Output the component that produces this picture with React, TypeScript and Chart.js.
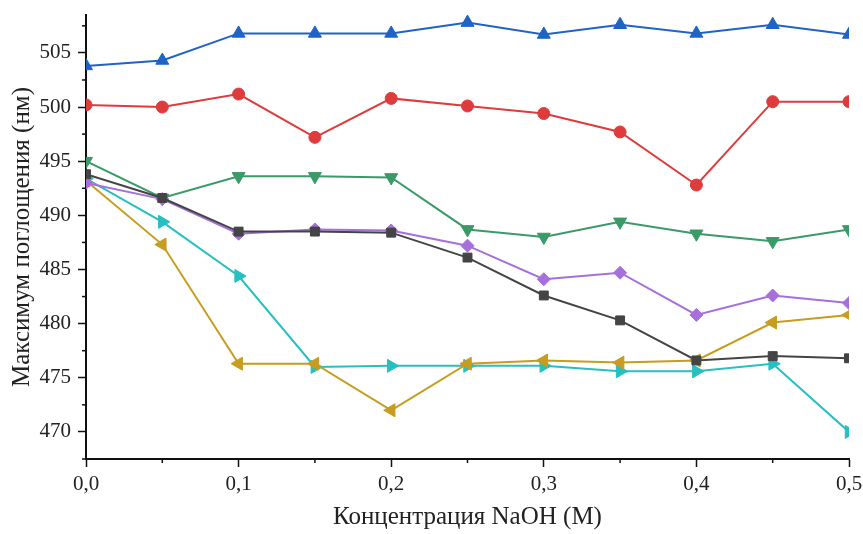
import React, { useEffect, useRef } from "react";
import { Chart, registerables } from "chart.js";

Chart.register(...registerables);

const concentrations = [0, 0.05, 0.1, 0.15, 0.2, 0.25, 0.3, 0.35, 0.4, 0.45, 0.5];

const seriesBlue = [503.8, 504.3, 506.8, 506.8, 506.8, 507.8, 506.7, 507.6, 506.8, 507.6, 506.7];
const seriesRed = [500.2, 500.0, 501.2, 497.2, 500.8, 500.1, 499.4, 497.7, 492.8, 500.5, 500.5];
const seriesGreen = [495.0, 491.6, 493.6, 493.6, 493.5, 488.7, 488.0, 489.4, 488.3, 487.6, 488.7];
const seriesBlack = [493.8, 491.6, 488.5, 488.5, 488.4, 486.1, 482.6, 480.3, 476.6, 477.0, 476.8];
const seriesPurple = [493.0, 491.5, 488.3, 488.7, 488.6, 487.2, 484.1, 484.7, 480.8, 482.6, 481.9];
const seriesGold = [493.2, 487.3, 476.3, 476.3, 472.0, 476.3, 476.6, 476.4, 476.6, 480.1, 480.8];
const seriesCyan = [493.4, 489.4, 484.4, 476.0, 476.1, 476.1, 476.1, 475.6, 475.6, 476.3, 470.0];

const xTicks = [0, 0.1, 0.2, 0.3, 0.4, 0.5];
const xMinorTicks = [0.05, 0.15, 0.25, 0.35, 0.45];
const yTicks = [470, 475, 480, 485, 490, 495, 500, 505];
const yMinorTicks = [467.5, 472.5, 477.5, 482.5, 487.5, 492.5, 497.5, 502.5, 507.5];

const xTitle = "Концентрация NaOH (M)";
const yTitle = "Максимум поглощения (нм)";

const FONT = "'Liberation Serif', 'Times New Roman', serif";

const toPoints = (vals: number[]) => vals.map((v, i) => ({ x: concentrations[i], y: v }));

const minorTicksPlugin = {
  id: "minorTicks",
  afterDraw(chart: any) {
    const { ctx } = chart;
    const xs = chart.scales.x;
    const ys = chart.scales.y;
    ctx.save();
    ctx.strokeStyle = "#111";
    ctx.lineWidth = 1.5;
    xMinorTicks.forEach((v) => {
      const px = xs.getPixelForValue(v);
      ctx.beginPath();
      ctx.moveTo(px, xs.top);
      ctx.lineTo(px, xs.top + 4);
      ctx.stroke();
    });
    yMinorTicks.forEach((v) => {
      const py = ys.getPixelForValue(v);
      ctx.beginPath();
      ctx.moveTo(ys.right, py);
      ctx.lineTo(ys.right - 4, py);
      ctx.stroke();
    });
    ctx.restore();
  },
};

export default function App() {
  const ref = useRef<HTMLCanvasElement>(null);

  useEffect(() => {
    if (!ref.current) return;
    const mk = (label: string, data: number[], color: string, style: string, radius: number, rotation = 0) => ({
      label,
      data: toPoints(data),
      borderColor: color,
      backgroundColor: color,
      borderWidth: 2,
      pointStyle: style,
      pointRadius: radius,
      pointRotation: rotation,
      pointBorderWidth: 1,
      pointBorderColor: color,
      pointBackgroundColor: color,
      tension: 0,
    });
    const chart = new Chart(ref.current, {
      type: "line",
      data: {
        datasets: [
          mk("black", seriesBlack, "#444444", "rect", 6.3),
          mk("purple", seriesPurple, "#a66fdb", "rectRot", 6.5),
          mk("gold", seriesGold, "#c89c1e", "triangle", 7.5, -90),
          mk("cyan", seriesCyan, "#27bfc2", "triangle", 7.5, 90),
          mk("green", seriesGreen, "#3a9a68", "triangle", 7.5, 180),
          mk("red", seriesRed, "#de3c3c", "circle", 6),
          mk("blue", seriesBlue, "#1f63c6", "triangle", 7.5),
        ] as any,
      },
      options: {
        animation: false,
        responsive: false,
        maintainAspectRatio: false,
        layout: { padding: { top: 15, right: 14, left: 0, bottom: 0 } },
        plugins: { legend: { display: false }, tooltip: { enabled: false } },
        scales: {
          x: {
            type: "linear",
            min: 0,
            max: 0.5,
            afterBuildTicks: (s: any) => {
              s.ticks = xTicks.map((v) => ({ value: v }));
            },
            afterFit: (s: any) => {
              s.height = 75;
              s.paddingLeft = 0;
              s.paddingRight = 0;
            },
            ticks: {
              callback: (v: any) => Number(v).toFixed(1).replace(".", ","),
              color: "#222",
              font: { family: FONT, size: 21 },
              padding: 5,
              maxRotation: 0,
            },
            grid: {
              drawOnChartArea: false,
              drawTicks: true,
              tickLength: 8,
              tickColor: "#111",
              tickWidth: 1.5,
            },
            border: { display: true, color: "#111", width: 2 },
            title: {
              display: true,
              text: xTitle,
              color: "#222",
              font: { family: FONT, size: 25 },
              padding: { top: 0, bottom: 2 },
            },
          },
          y: {
            type: "linear",
            min: 467.5,
            max: 508.5,
            afterBuildTicks: (s: any) => {
              s.ticks = yTicks.map((v) => ({ value: v }));
            },
            afterFit: (s: any) => {
              s.width = 86;
              s.paddingTop = 0;
              s.paddingBottom = 0;
            },
            ticks: {
              color: "#222",
              font: { family: FONT, size: 21 },
              padding: 7,
            },
            grid: {
              drawOnChartArea: false,
              drawTicks: true,
              tickLength: 8,
              tickColor: "#111",
              tickWidth: 1.5,
            },
            border: { display: true, color: "#111", width: 2 },
            title: {
              display: true,
              text: yTitle,
              color: "#222",
              font: { family: FONT, size: 25 },
              padding: { top: 7, bottom: 0 },
            },
          },
        },
      },
      plugins: [minorTicksPlugin],
    });
    return () => chart.destroy();
  }, []);

  return (
    <div style={{ position: "fixed", left: 0, top: 0, width: 863, height: 534, background: "#fff" }}>
      <canvas ref={ref} width={863} height={534} style={{ width: 863, height: 534 }} />
    </div>
  );
}
